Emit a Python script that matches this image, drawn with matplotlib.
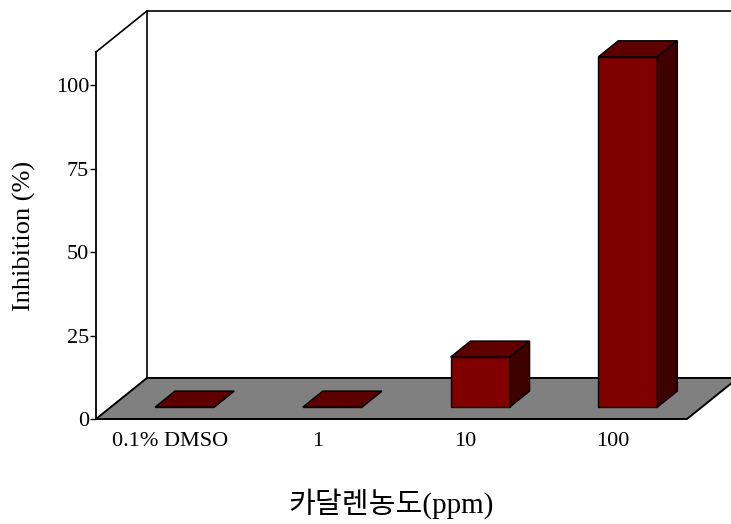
import matplotlib.pyplot as plt
from matplotlib.patches import Polygon

plt.rcParams['font.family'] = ['Liberation Serif', 'Noto Sans CJK KR']

# data
categories = ['0.1% DMSO', '1', '10', '100']
inhibition = [0, 0, 15, 105]
yticks = [0, 25, 50, 75, 100]

# pseudo 3D settings (in data units)
ymax = 110
DX, DY = 0.345, 12.3      # depth vector of the whole box
bar_w = 0.4
d0, d1 = 0.29, 0.68       # bar depth span (fraction of box depth)

def proj(x, y, d):
    return (x + d * DX, y + d * DY)

fig = plt.figure(figsize=(7.31, 5.24), dpi=100)
ax = fig.add_axes([96 / 731, 1 - 419 / 524, 591 / 731, 367 / 524])
ax.set_xlim(0, len(categories))
ax.set_ylim(0, ymax)
ax.patch.set_visible(False)
n = len(categories)

# back wall
back = Polygon([proj(0, 0, 1), proj(n, 0, 1), proj(n, ymax, 1), proj(0, ymax, 1)],
               closed=True, facecolor='white', edgecolor='black', lw=1.2,
               clip_on=False, zorder=1)
ax.add_patch(back)
# left wall top edge
ax.plot([0, DX], [ymax, ymax + DY], color='black', lw=1.2, clip_on=False, zorder=1)

# floor
floor = Polygon([proj(0, 0, 0), proj(n, 0, 0), proj(n, 0, 1), proj(0, 0, 1)],
                closed=True, facecolor='#808080', edgecolor='black', lw=1.4,
                clip_on=False, zorder=2)
ax.add_patch(floor)

# bars
for i, v in enumerate(inhibition):
    c = i + 0.5
    xl, xr = c - bar_w / 2, c + bar_w / 2
    faces = [
        ([proj(xl, 0, d0), proj(xr, 0, d0), proj(xr, v, d0), proj(xl, v, d0)], '#800000'),
        ([proj(xl, v, d0), proj(xr, v, d0), proj(xr, v, d1), proj(xl, v, d1)], '#5f0000'),
        ([proj(xr, 0, d0), proj(xr, 0, d1), proj(xr, v, d1), proj(xr, v, d0)], '#3f0000'),
    ]
    for pts, col in faces:
        ax.add_patch(Polygon(pts, closed=True, facecolor=col, edgecolor='black',
                             lw=1.0, clip_on=False, zorder=3))

# axes / ticks
for s in ['top', 'right', 'bottom']:
    ax.spines[s].set_visible(False)
ax.spines['left'].set_linewidth(1.3)
ax.spines['left'].set_zorder(4)

ax.set_yticks(yticks)
ax.set_yticklabels([str(t) for t in yticks], fontsize=16)
ax.tick_params(axis='y', direction='out', length=4, width=1, pad=1)

ax.set_xticks([i + 0.5 for i in range(n)])
ax.set_xticklabels(categories, fontsize=16)
ax.set_xticks(range(1, n), minor=True)
ax.tick_params(axis='x', which='major', length=0, pad=9)
ax.tick_params(axis='x', which='minor', direction='in', length=7, width=1)

ax.set_ylabel('Inhibition (%)', fontsize=19, labelpad=14)
ax.set_xlabel('카달렌농도(ppm)', fontsize=21, labelpad=27)

fig.savefig('out.png', dpi=100)
